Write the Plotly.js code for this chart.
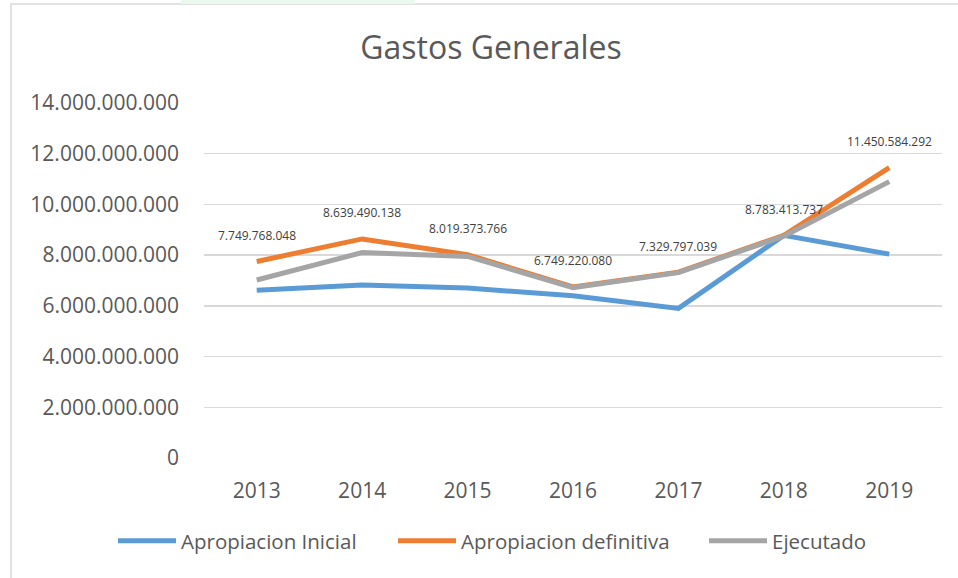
<!DOCTYPE html>
<html>
<head>
<meta charset="utf-8">
<script src="https://cdn.plot.ly/plotly-3.0.1.min.js"></script>
<style>html,body{margin:0;padding:0;background:#fff;}#chart{width:958px;height:578px;}</style>
</head>
<body>
<div id="chart"></div>
<script>
const years = ['2013','2014','2015','2016','2017','2018','2019'];
const apropiacionInicial = [6620000000, 6820000000, 6700000000, 6400000000, 5900000000, 8780000000, 8040000000];
const apropiacionDefinitiva = [7749768048, 8639490138, 8019373766, 6749220080, 7329797039, 8783413737, 11450584292];
const ejecutado = [7020000000, 8100000000, 7950000000, 6720000000, 7310000000, 8750000000, 10900000000];
const seriesNames = ['Apropiacion Inicial', 'Apropiacion definitiva', 'Ejecutado'];
const yTickVals = [0, 2000000000, 4000000000, 6000000000, 8000000000, 10000000000, 12000000000, 14000000000];

function fmt(v) {
  return String(Math.round(v)).replace(/\B(?=(\d{3})+(?!\d))/g, '.');
}

const FONT = 'Open Sans, sans-serif';
const TXT = '#595959';

const traces = [
  {x: years, y: apropiacionInicial, name: seriesNames[0], mode: 'lines', line: {color: '#5B9BD5', width: 5}, legend: 'legend'},
  {x: years, y: apropiacionDefinitiva, name: seriesNames[1], mode: 'lines', line: {color: '#ED7D31', width: 5}, legend: 'legend2'},
  {x: years, y: ejecutado, name: seriesNames[2], mode: 'lines', line: {color: '#A5A5A5', width: 5}, legend: 'legend3'}
].map(t => Object.assign(t, {type: 'scatter', hoverinfo: 'skip'}));

// category axis: annotations use the category index
const annotations = years.map((yr, i) => ({
  x: i, y: apropiacionDefinitiva[i], xref: 'x', yref: 'y',
  text: fmt(apropiacionDefinitiva[i]), showarrow: false, yshift: 26,
  font: {family: FONT, size: 12, color: '#404040'}
}));

function legendAt(px) {
  return {
    orientation: 'h', x: (px - 204) / 738, xanchor: 'left', y: (458 - 541) / 355, yanchor: 'middle',
    font: {family: FONT, size: 20.5, color: TXT}, itemwidth: 58, bgcolor: 'rgba(0,0,0,0)'
  };
}

const layout = {
  width: 958, height: 578,
  margin: {l: 204, r: 16, t: 103, b: 120},
  paper_bgcolor: '#ffffff', plot_bgcolor: '#ffffff',
  separators: ',.',
  showlegend: true,
  title: {text: 'Gastos Generales', font: {family: FONT, size: 32, color: TXT}, x: 491/958, xanchor: 'center', y: 1 - 48/578, yanchor: 'middle', xref: 'container'},
  xaxis: {
    type: 'category', range: [-0.5, 6.5], showgrid: false, zeroline: false, showline: false, ticks: '',
    tickfont: {family: FONT, size: 21, color: TXT}, ticklabelstandoff: 18, fixedrange: true
  },
  yaxis: {
    range: [0, 14000000000], tickvals: yTickVals, tickformat: ',.0f',
    showgrid: true, gridcolor: '#d9d9d9', gridwidth: 1.5, zeroline: false, showline: false, ticks: '',
    tickfont: {family: FONT, size: 21, color: TXT}, ticklabelstandoff: 24, fixedrange: true
  },
  legend: legendAt(113),
  legend2: legendAt(393),
  legend3: legendAt(704),
  annotations: annotations,
  shapes: [
    {type: 'rect', xref: 'paper', yref: 'paper', x0: (11-204)/738, x1: 1.2, y0: -0.5, y1: (458-4)/355,
     line: {color: '#d9d9d9', width: 1.5}, fillcolor: 'rgba(0,0,0,0)', layer: 'below'},
    {type: 'rect', xref: 'paper', yref: 'paper', x0: (181-204)/738, x1: (415-204)/738, y0: (458-4)/355, y1: 1.4,
     line: {width: 0}, fillcolor: '#eaf8ee', layer: 'below'}
  ]
};

Plotly.newPlot('chart', traces, layout, {displayModeBar: false, staticPlot: true});
</script>
</body>
</html>
